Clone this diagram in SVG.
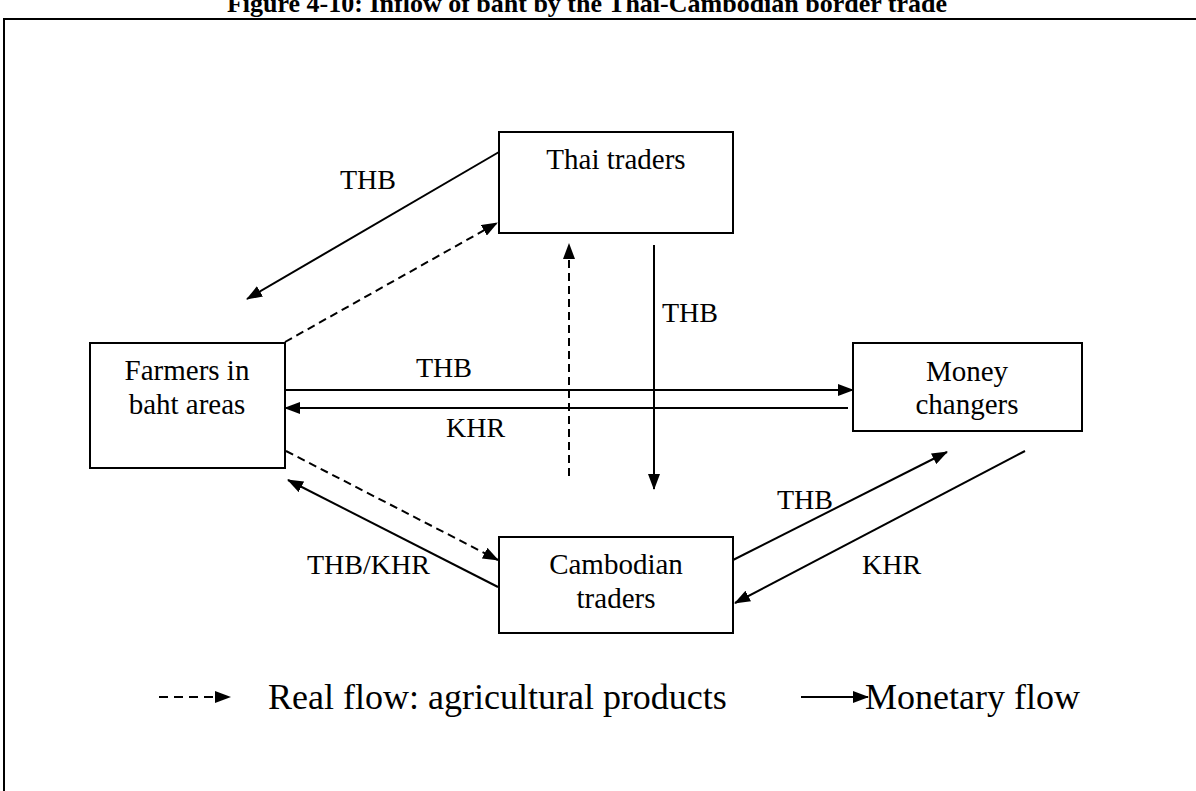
<svg xmlns="http://www.w3.org/2000/svg" width="1196" height="791" viewBox="0 0 1196 791">
  <style>
    .box { fill: #fff; stroke: #000; stroke-width: 2; }
    .lbl { font-family: "Liberation Serif", "Times New Roman", serif; font-size: 28px; fill: #000; }
    .node { font-family: "Liberation Serif", "Times New Roman", serif; font-size: 29px; fill: #000; text-anchor: middle; }
    .title { font-family: "Liberation Serif", "Times New Roman", serif; font-size: 26px; font-weight: bold; fill: #000; text-anchor: middle; }
    .legend { font-family: "Liberation Serif", "Times New Roman", serif; font-size: 36px; fill: #000; }
    .solid { stroke: #000; stroke-width: 2; fill: none; marker-end: url(#head); }
    .dash { stroke: #000; stroke-width: 2; fill: none; stroke-dasharray: 8 5; marker-end: url(#head); }
  </style>
  <defs>
    <marker id="head" viewBox="0 0 16 12" refX="15" refY="6" markerWidth="16" markerHeight="12" markerUnits="userSpaceOnUse" orient="auto">
      <path d="M0,0 L16,6 L0,12 Z" fill="#000"/>
    </marker>
  </defs>

  <rect width="1196" height="791" fill="#fff"/>

  <!-- title (clipped by the page top) and frame -->
  <text class="title" x="587" y="12">Figure 4-10: Inflow of baht by the Thai-Cambodian border trade</text>
  <path d="M4,791 L4,19 L1196,19" fill="none" stroke="#000" stroke-width="2"/>

  <g id="thai-traders">
    <rect class="box" x="499" y="132" width="234" height="101"/>
    <text class="node" x="616" y="169">Thai traders</text>
  </g>

  <g id="farmers">
    <rect class="box" x="90" y="343" width="195" height="125"/>
    <text class="node" x="187" y="380">Farmers in</text>
    <text class="node" x="187" y="414">baht areas</text>
  </g>

  <g id="money-changers">
    <rect class="box" x="853" y="343" width="229" height="88"/>
    <text class="node" x="967" y="381">Money</text>
    <text class="node" x="967" y="414">changers</text>
  </g>

  <g id="cambodian-traders">
    <rect class="box" x="499" y="537" width="234" height="96"/>
    <text class="node" x="616" y="574">Cambodian</text>
    <text class="node" x="616" y="608">traders</text>
  </g>

  <g id="connectors">
    <line class="solid" x1="499" y1="152" x2="247" y2="299"/>
    <line class="dash" x1="285" y1="342" x2="497" y2="223"/>
    <line class="dash" x1="569" y1="476" x2="569" y2="244"/>
    <line class="solid" x1="654" y1="245" x2="654" y2="489"/>
    <line class="solid" x1="285" y1="390" x2="853" y2="390"/>
    <line class="solid" x1="848" y1="408" x2="285" y2="408"/>
    <line class="dash" x1="286" y1="451" x2="498" y2="560"/>
    <line class="solid" x1="498" y1="587" x2="288" y2="480"/>
    <line class="solid" x1="733" y1="560" x2="947" y2="452"/>
    <line class="solid" x1="1025" y1="451" x2="735" y2="603"/>

    <text class="lbl" x="340" y="189">THB</text>
    <text class="lbl" x="662" y="322">THB</text>
    <text class="lbl" x="416" y="377">THB</text>
    <text class="lbl" x="446" y="437">KHR</text>
    <text class="lbl" x="307" y="574">THB/KHR</text>
    <text class="lbl" x="777" y="509">THB</text>
    <text class="lbl" x="862" y="574">KHR</text>
  </g>

  <g id="legend">
    <line x1="159" y1="697" x2="230" y2="697" stroke="#000" stroke-width="2" stroke-dasharray="9 6" marker-end="url(#head)"/>
    <text class="legend" x="268" y="709">Real flow: agricultural products</text>
    <line x1="801" y1="697" x2="868" y2="697" stroke="#000" stroke-width="2" marker-end="url(#head)"/>
    <text class="legend" x="865" y="709">Monetary flow</text>
  </g>
</svg>
